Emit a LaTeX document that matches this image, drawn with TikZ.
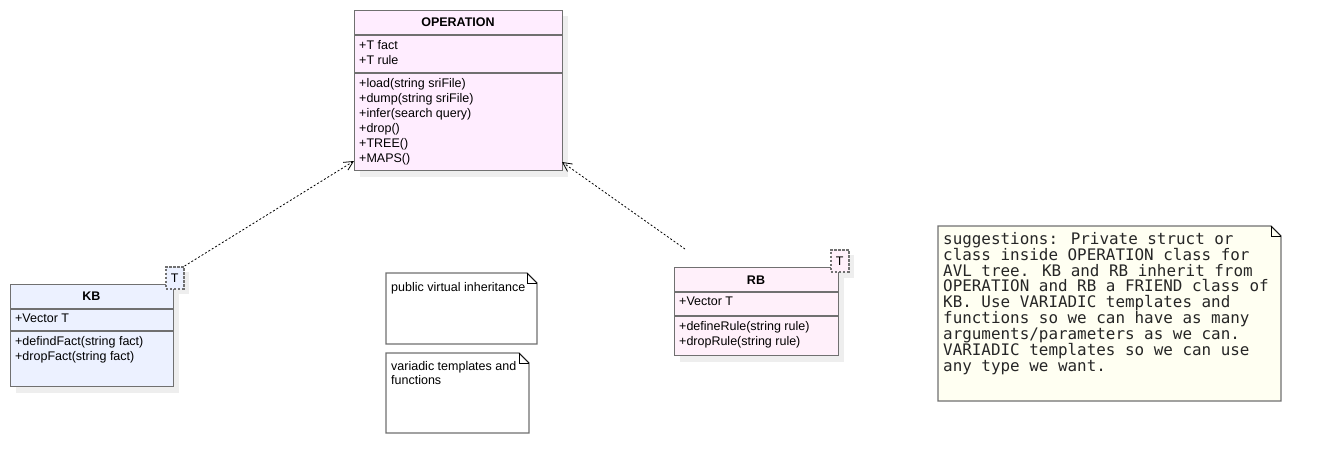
\documentclass[tikz,border=0pt]{standalone}
\usepackage{fontspec}
\setmainfont{Liberation Sans}
\newfontfamily\notemono{DejaVu Sans Mono}
\usetikzlibrary{arrows.meta,calc}
\definecolor{opfill}{RGB}{255,237,255}
\definecolor{kbfill}{RGB}{236,241,255}
\definecolor{rbfill}{RGB}{255,240,250}
\definecolor{notefill}{RGB}{255,255,242}
\definecolor{bordergray}{RGB}{112,112,112}
\definecolor{shadowgray}{RGB}{238,238,238}
\tikzset{
  classbox/.style={draw=bordergray, line width=1.3pt, anchor=north west, inner sep=0pt, minimum width=#1},
  shadowbox/.style={fill=shadowgray, draw=none},
  divline/.style={draw=bordergray, line width=1.3pt},
  title/.style={font=\fontsize{12.5}{15}\selectfont\bfseries, inner sep=0pt},
  member/.style={font=\fontsize{12.5}{15}\selectfont, anchor=north west, align=left, inner sep=0pt},
  tmplbox/.style={draw=bordergray, dash pattern=on 2.5pt off 1.5pt, line width=1.6pt, inner sep=0pt, anchor=north west, minimum width=18pt, minimum height=22pt, font=\fontsize{12.5}{15}\selectfont},
  notebox/.style={draw=bordergray, line width=1.3pt},
  notetxt/.style={font=\fontsize{12.5}{14}\selectfont, anchor=north west, align=left, inner sep=0pt},
  realize/.style={dash pattern=on 2pt off 2pt, line width=0.8pt, -{Straight Barb[length=9pt,width=9pt]}},
}
\begin{document}
\begin{tikzpicture}[x=1pt,y=-1pt]
\useasboundingbox (0,0) rectangle (1322,474);
% ---------- OPERATION ----------
\fill[shadowgray] (360,16) rectangle (568,177);
\node[classbox=208pt, minimum height=160pt, fill=opfill] (op) at (354,10) {};
\draw[divline] (354,35) -- (562,35);
\draw[divline] (354,73) -- (562,73);
\node[title] (optitle) at (458,22) {OPERATION};
\node[member] (opattr) at (359,40) {+T fact\\+T rule};
\node[member] (opmeth) at (359,78.5) {+load(string sriFile)\\+dump(string sriFile)\\+infer(search query)\\+drop()\\+TREE()\\+MAPS()};
% ---------- KB ----------
\fill[shadowgray] (16,290) rectangle (179,393);
\fill[shadowgray] (171,272) rectangle (189,294);
\node[classbox=163pt, minimum height=102pt, fill=kbfill] (kb) at (10,284) {};
\draw[divline] (10,309) -- (173,309);
\draw[divline] (10,331) -- (173,331);
\node[title] (kbtitle) at (91.5,296) {KB};
\node[member] (kbattr) at (15,314) {+Vector T};
\node[member] (kbmeth) at (15,336) {+defindFact(string fact)\\+dropFact(string fact)};
\node[tmplbox, fill=kbfill] (kbT) at (165,266) {T};
% ---------- RB ----------
\fill[shadowgray] (680,273) rectangle (844,362);
\fill[shadowgray] (836,255) rectangle (854,278);
\node[classbox=164pt, minimum height=88pt, fill=rbfill] (rb) at (674,267) {};
\draw[divline] (674,292) -- (838,292);
\draw[divline] (674,316) -- (838,316);
\node[title] (rbtitle) at (756,280) {RB};
\node[member] (rbattr) at (679,297) {+Vector T};
\node[member] (rbmeth) at (679,321) {+defineRule(string rule)\\+dropRule(string rule)};
\node[tmplbox, fill=rbfill] (rbT) at (830,249) {T};
% ---------- Notes ----------
\node[draw=none, anchor=north west, minimum width=151pt, minimum height=71pt, inner sep=0pt] (n1) at (386,273) {};
\draw[notebox, fill=white] (386,273) -- (527,273) -- (537,283) -- (537,344) -- (386,344) -- cycle;
\draw[line width=0.6pt] (527,273) -- (527,283) -- (537,283);
\draw[line width=0.6pt, black] (527,273) -- (537,283);
\node[notetxt] (n1txt) at (391,282) {public virtual inheritance};
\node[draw=none, anchor=north west, minimum width=143pt, minimum height=80pt, inner sep=0pt] (n2) at (386,353) {};
\draw[notebox, fill=white] (386,353) -- (519,353) -- (529,363) -- (529,433) -- (386,433) -- cycle;
\draw[line width=0.6pt] (519,353) -- (519,363) -- (529,363);
\draw[line width=0.6pt, black] (519,353) -- (529,363);
\node[notetxt] (n2txt) at (391,361.5) {variadic templates and\\functions};
\node[draw=none, anchor=north west, minimum width=343pt, minimum height=175pt, inner sep=0pt] (n3) at (938,226) {};
\draw[notebox, fill=notefill] (938,226) -- (1271,226) -- (1281,236) -- (1281,401) -- (938,401) -- cycle;
\draw[line width=0.6pt] (1271,226) -- (1271,236) -- (1281,236);
\draw[line width=0.6pt, black] (1271,226) -- (1281,236);
\node[anchor=north west, align=left, inner sep=0pt, font=\notemono\fontsize{15.9}{15.9}\selectfont, text=black!85] (n3txt) at (943,232) {suggestions: Private struct or\\class inside OPERATION class for\\AVL tree. KB and RB inherit from\\OPERATION and RB a FRIEND class of\\KB. Use VARIADIC templates and\\functions so we can have as many\\arguments/parameters as we can.\\VARIADIC templates so we can use\\any type we want.};
% ---------- Connectors ----------
\coordinate (opL) at (354,161);
\coordinate (opR) at (562,162);
\coordinate (rbStart) at (685,249);
\draw[realize] (kbT.north east) -- (opL);
\draw[realize] (rbStart) -- (opR);
\end{tikzpicture}
\end{document}
